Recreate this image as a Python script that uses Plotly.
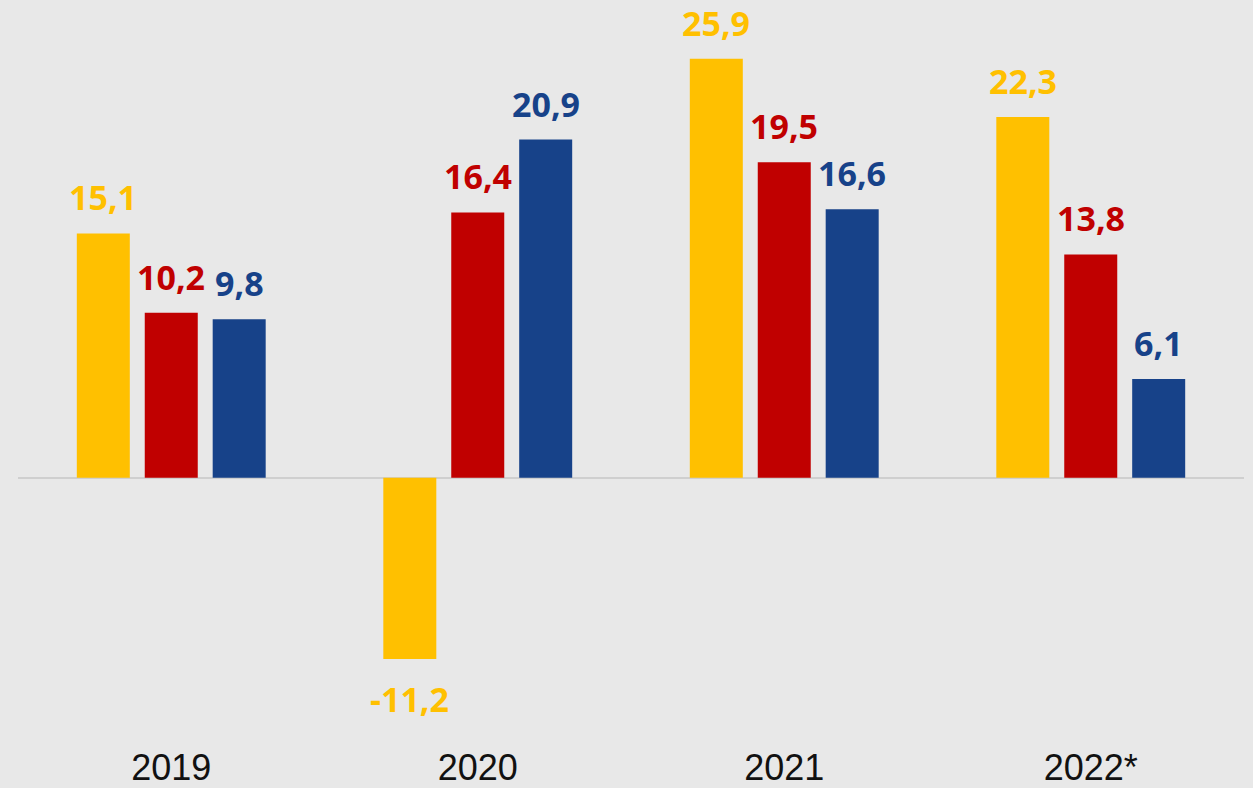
import plotly.graph_objects as go

categories = ["2019", "2020", "2021", "2022*"]
series_names = ["Série 1", "Série 2", "Série 3"]
values_yellow = [15.1, -11.2, 25.9, 22.3]
values_red = [10.2, 16.4, 19.5, 13.8]
values_blue = [9.8, 20.9, 16.6, 6.1]
colors = ["#FFC000", "#C00000", "#174289"]

series = [values_yellow, values_red, values_blue]

fig = go.Figure()
for name, vals, col in zip(series_names, series, colors):
    fig.add_trace(go.Bar(
        x=categories, y=vals, name=name,
        marker=dict(color=col, line=dict(width=0)),
        showlegend=False,
    ))

slot = 68  # px between bars in a group
for i, (vals, col) in enumerate(zip(series, colors)):
    for j, v in enumerate(vals):
        label = f"{v:.1f}".replace(".", ",")
        fig.add_annotation(
            x=j, y=v, xref="x", yref="y",
            text=label, showarrow=False,
            xshift=(i - 1) * slot,
            yshift=11 if v >= 0 else -15,
            yanchor="bottom" if v >= 0 else "top",
            font=dict(family="Open Sans", size=34, color=col, weight="bold"),
        )

fig.update_layout(
    width=1253, height=788,
    margin=dict(l=18, r=9, t=0, b=43),
    paper_bgcolor="#e8e8e8",
    plot_bgcolor="#e8e8e8",
    barmode="group",
    bargap=0.335,
    bargroupgap=0.22,
    xaxis=dict(
        type="category",
        showgrid=False, showline=False, ticks="",
        tickfont=dict(family="Liberation Sans", size=36, color="#111111"),
        range=[-0.5, 3.5],
    ),
    yaxis=dict(
        range=[-16.4, 29.53],
        showgrid=False, showticklabels=False, ticks="",
        zeroline=True, zerolinecolor="#cfcfcf", zerolinewidth=2,
    ),
)

fig.write_html("out.html", post_script="document.body.style.margin='0';",
               config={"displayModeBar": False})
